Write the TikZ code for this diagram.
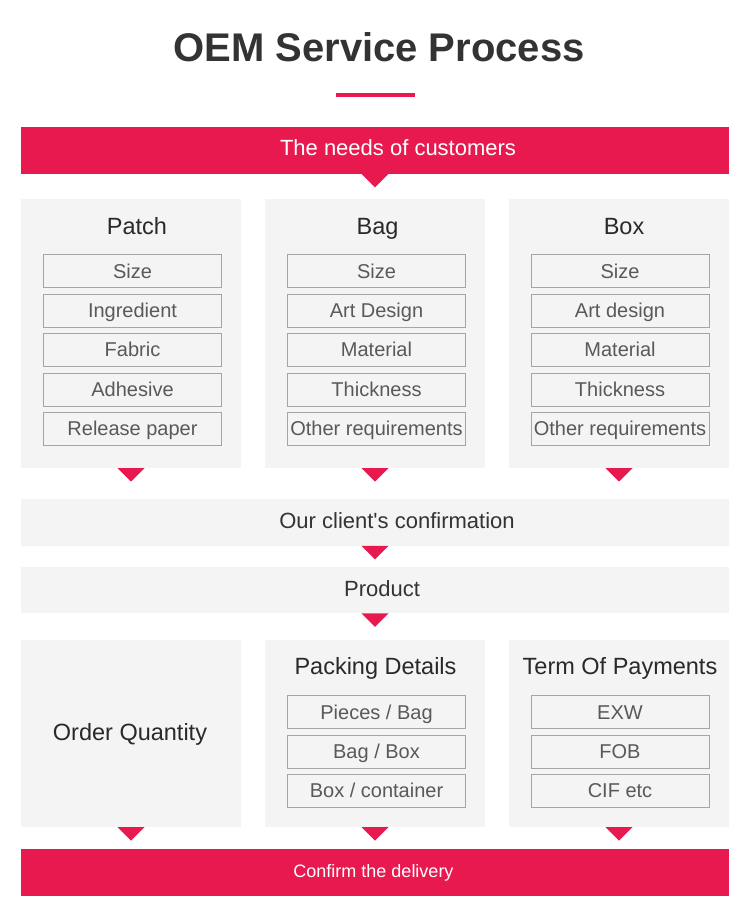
\documentclass[tikz,border=0pt]{standalone}
\usepackage{fontspec}
\setmainfont{Liberation Sans}
\definecolor{oemred}{HTML}{E8194F}
\definecolor{panelgray}{HTML}{F4F4F4}
\definecolor{boxline}{HTML}{A5A5A5}
\definecolor{itemgray}{HTML}{595959}
\definecolor{darkgray}{HTML}{333333}
\tikzstyle{panel}=[fill=panelgray,%
                   rectangle,%
                   minimum width = 220pt,%
                   inner sep     = 0pt]
\tikzstyle{heading}=[anchor=base, text=darkgray!80!black, font=\fontsize{23.5}{28}\selectfont]
\tikzstyle{item}=[draw=boxline, rectangle, minimum width=178pt, minimum height=33pt, inner sep=0pt, text height=14.3pt, text depth=0pt, text=itemgray, font=\fontsize{20}{24}\selectfont, node distance=39.4pt]
\tikzstyle{redbar}=[fill=oemred, rectangle, minimum width=708pt, minimum height=46.5pt, inner sep=0pt]
\tikzstyle{graybar}=[fill=panelgray, rectangle, minimum width=708pt, minimum height=46.5pt, inner sep=0pt]
\tikzstyle{bartext}=[inner sep=0pt, text height=15.8pt, text depth=0pt, text=darkgray, font=\fontsize{22}{26}\selectfont]
\newcommand{\notch}[1]{\fill[oemred] ([xshift=-13.5pt]#1) -- ([xshift=13.5pt]#1) -- ([yshift=-13.5pt]#1) -- cycle;}

\begin{document}
\begin{tikzpicture}[x=1pt,y=-1pt]
            \useasboundingbox[fill=white] (0,0) rectangle (750,920);
            % title
            \node[anchor=base, text=darkgray, font=\bfseries\fontsize{40}{48}\selectfont] (title) at (379,62) {OEM Service Process};
            \node[fill=oemred, minimum width=79pt, minimum height=3.5pt, inner sep=0pt] (rule) at (375.5,95) {};
            % needs of customers
            \node[redbar] (needs) at (375,150.5) {};
            \node[bartext, text=white] (needst) at (398,148) {The needs of customers};
            \notch{needs.south}
            % first row
            \node[panel, minimum height=269pt] (patch) at (131,333.5) {};
            \node[panel, minimum height=269pt] (bag) at (375,333.5) {};
            \node[panel, minimum height=269pt] (box) at (619,333.5) {};
            \node[heading] (patchh) at (137,234) {Patch};
            \node[heading] (bagh) at (377.5,234) {Bag};
            \node[heading] (boxh) at (624,234) {Box};
            \node[item] (p1) at (132.5,271) {Size};
            \node[item][below of=p1] (p2) {Ingredient};
            \node[item][below of=p2] (p3) {Fabric};
            \node[item][below of=p3] (p4) {Adhesive};
            \node[item][below of=p4] (p5) {Release paper};
            \node[item] (b1) at (376.5,271) {Size};
            \node[item][below of=b1] (b2) {Art Design};
            \node[item][below of=b2] (b3) {Material};
            \node[item][below of=b3] (b4) {Thickness};
            \node[item][below of=b4] (b5) {Other requirements};
            \node[item] (x1) at (620,271) {Size};
            \node[item][below of=x1] (x2) {Art design};
            \node[item][below of=x2] (x3) {Material};
            \node[item][below of=x3] (x4) {Thickness};
            \node[item][below of=x4] (x5) {Other requirements};
            \notch{patch.south}
            \notch{bag.south}
            \notch{box.south}
            % confirmation and product
            \node[graybar] (conf) at (375,522.5) {};
            \node[bartext] (conft) at (397,521) {Our client\textquotesingle s confirmation};
            \notch{conf.south}
            \node[graybar] (prod) at (375,590) {};
            \node[bartext] (prodt) at (382,588.5) {Product};
            \notch{prod.south}
            % second row
            \node[panel, minimum height=187pt] (order) at (131,733.5) {};
            \node[panel, minimum height=187pt] (packing) at (375,733.5) {};
            \node[panel, minimum height=187pt] (terms) at (619,733.5) {};
            \node[heading] (orderh) at (130,740) {Order Quantity};
            \node[heading] (packingh) at (375.5,674) {Packing Details};
            \node[heading] (termsh) at (620,674) {Term Of Payments};
            \node[item] (k1) at (376.5,712) {Pieces / Bag};
            \node[item][below of=k1] (k2) {Bag / Box};
            \node[item][below of=k2] (k3) {Box / container};
            \node[item] (t1) at (620,712) {EXW};
            \node[item][below of=t1] (t2) {FOB};
            \node[item][below of=t2] (t3) {CIF etc};
            \notch{order.south}
            \notch{packing.south}
            \notch{terms.south}
            % delivery
            \node[redbar] (delivery) at (375,872.5) {};
            \node[bartext, text=white, text height=12.9pt, font=\fontsize{18}{22}\selectfont] (deliveryt) at (373.5,871.5) {Confirm the delivery};
  \end{tikzpicture}
\end{document}
